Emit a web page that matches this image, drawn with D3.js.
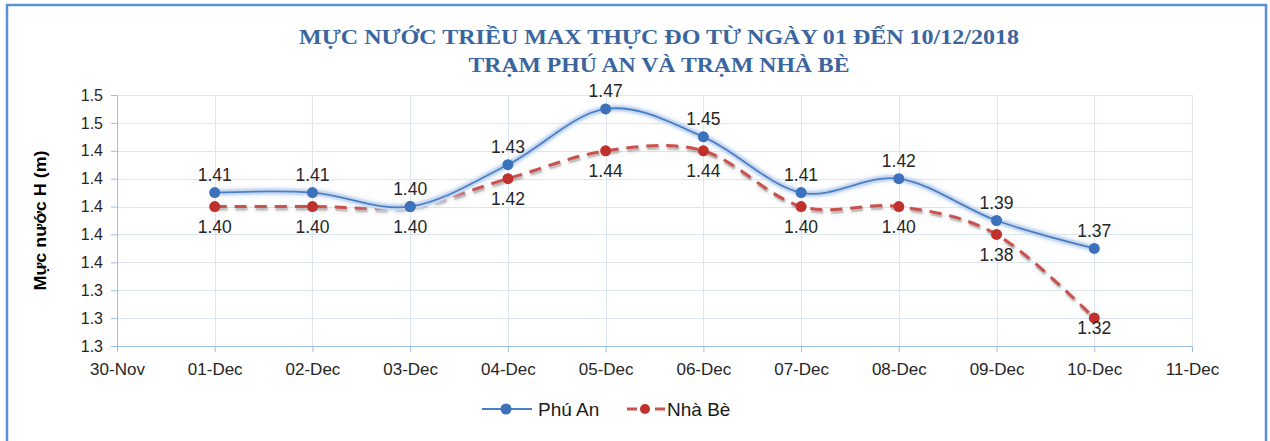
<!DOCTYPE html>
<html>
<head>
<meta charset="utf-8">
<script src="https://cdn.jsdelivr.net/npm/d3@7.9.0/dist/d3.min.js"></script>
<style>
  html, body { margin: 0; padding: 0; background: #fff; }
  svg { display: block; font-family: "Liberation Sans", Arial, sans-serif; }
</style>
</head>
<body>
<svg id="chart" width="1270" height="441"></svg>
<script>
// chart data
const titleLines = ["MỰC NƯỚC TRIỀU MAX THỰC ĐO TỪ NGÀY 01 ĐẾN 10/12/2018", "TRẠM PHÚ AN VÀ TRẠM NHÀ BÈ"];
const yTitle = "Mực nước H (m)";
const dates = ["2018-12-01", "2018-12-02", "2018-12-03", "2018-12-04", "2018-12-05",
               "2018-12-06", "2018-12-07", "2018-12-08", "2018-12-09", "2018-12-10"];
const phuAn = [1.41, 1.41, 1.40, 1.43, 1.47, 1.45, 1.41, 1.42, 1.39, 1.37];
const nhaBe = [1.40, 1.40, 1.40, 1.42, 1.44, 1.44, 1.40, 1.40, 1.38, 1.32];
const seriesNames = ["Phú An", "Nhà Bè"];
const xDomain = ["2018-11-30", "2018-12-11"];
const yTicks = [1.30, 1.32, 1.34, 1.36, 1.38, 1.40, 1.42, 1.44, 1.46, 1.48];

const W = 1270, H = 441;
const margin = { top: 95, right: 78, bottom: 95, left: 117 };
const innerW = W - margin.left - margin.right;
const innerH = H - margin.top - margin.bottom;

const parse = d3.timeParse("%Y-%m-%d");
const svg = d3.select("#chart");

// blurry halo under the lines, like the Excel glow
const defs = svg.append("defs");
const glow = defs.append("filter").attr("id", "glow")
  .attr("x", "-5%").attr("y", "-20%").attr("width", "110%").attr("height", "140%");
glow.append("feGaussianBlur").attr("in", "SourceGraphic").attr("stdDeviation", 2.2).attr("result", "b");
glow.append("feMerge").call(m => {
  m.append("feMergeNode").attr("in", "b");
  m.append("feMergeNode").attr("in", "SourceGraphic");
});

svg.append("rect").attr("width", W).attr("height", H).attr("fill", "#fff");
svg.append("rect")
  .attr("x", 7).attr("y", 5).attr("width", 1259).attr("height", 460)
  .attr("fill", "none").attr("stroke", "#5B8FD6").attr("stroke-width", 2.5);

// title
svg.append("g").selectAll("text")
  .data(titleLines)
  .join("text")
  .attr("x", 659)
  .attr("y", (d, i) => 44 + i * 28)
  .attr("text-anchor", "middle")
  .attr("font-family", "'Liberation Serif', 'Times New Roman', serif")
  .attr("font-weight", "bold")
  .attr("font-size", 22)
  .attr("fill", "#3A659F")
  .attr("textLength", (d, i) => i === 0 ? 720 : 381)
  .attr("lengthAdjust", "spacingAndGlyphs")
  .text(d => d);

const x = d3.scaleTime()
  .domain(xDomain.map(parse))
  .range([0, innerW]);
const y = d3.scaleLinear()
  .domain([yTicks[0], yTicks[yTicks.length - 1]])
  .range([innerH, 0]);

const g = svg.append("g").attr("transform", `translate(${margin.left},${margin.top})`);

// grid
const dayTicks = d3.timeDay.range(parse(xDomain[0]), d3.timeDay.offset(parse(xDomain[1]), 1));
g.append("g").selectAll("line")
  .data(yTicks)
  .join("line")
  .attr("x1", 0).attr("x2", innerW)
  .attr("y1", d => Math.round(y(d)) + 0.5).attr("y2", d => Math.round(y(d)) + 0.5)
  .attr("stroke", "#DCE6F2");
g.append("g").selectAll("line")
  .data(dayTicks)
  .join("line")
  .attr("x1", d => Math.round(x(d)) + 0.5).attr("x2", d => Math.round(x(d)) + 0.5)
  .attr("y1", 0).attr("y2", innerH)
  .attr("stroke", "#DCE6F2");

// axes
const xAxis = g.append("g")
  .attr("transform", `translate(0,${innerH})`)
  .call(d3.axisBottom(x).tickValues(dayTicks).tickFormat(d3.timeFormat("%d-%b")).tickSize(6).tickPadding(11));
const yAxis = g.append("g")
  .call(d3.axisLeft(y).tickValues(yTicks).tickFormat(d3.format(".1f")).tickSize(6).tickPadding(8));
[xAxis, yAxis].forEach(a => {
  a.select(".domain").attr("stroke", "#9DBDE6");
  a.selectAll(".tick line").attr("stroke", "#9DBDE6");
  a.selectAll(".tick text")
    .attr("fill", "#262626")
    .attr("font-family", "'Liberation Sans', Arial, sans-serif");
});
xAxis.selectAll(".tick text").attr("font-size", 17);
yAxis.selectAll(".tick text").attr("font-size", 16);

// y title
svg.append("text")
  .attr("transform", `translate(46,${margin.top + innerH / 2}) rotate(-90)`)
  .attr("text-anchor", "middle")
  .attr("font-weight", "bold")
  .attr("font-size", 17)
  .attr("fill", "#000")
  .attr("textLength", 140)
  .attr("lengthAdjust", "spacingAndGlyphs")
  .text(yTitle);

const rows = dates.map((d, i) => ({ date: parse(d), a: phuAn[i], b: nhaBe[i] }));
const lineA = d3.line().x(d => x(d.date)).y(d => y(d.a)).curve(d3.curveCatmullRom.alpha(0));
const lineB = d3.line().x(d => x(d.date)).y(d => y(d.b)).curve(d3.curveCatmullRom.alpha(0));

const blue = "#4A7EC6", blueDot = "#3C72BC";
const red = "#C9514E", redDot = "#C0302C";

// Nhà Bè
g.append("path").datum(rows)
  .attr("d", lineB)
  .attr("fill", "none")
  .attr("stroke", "rgba(120,120,120,0.35)")
  .attr("stroke-width", 4)
  .attr("stroke-dasharray", "12 8")
  .attr("transform", "translate(1,2)")
  .attr("filter", "url(#glow)");
g.append("path").datum(rows)
  .attr("d", lineB)
  .attr("fill", "none")
  .attr("stroke", red)
  .attr("stroke-width", 3)
  .attr("stroke-dasharray", "12 8");

// Phú An
g.append("path").datum(rows)
  .attr("d", lineA)
  .attr("fill", "none")
  .attr("stroke", "#C9DAF0")
  .attr("stroke-width", 6)
  .attr("filter", "url(#glow)");
g.append("path").datum(rows)
  .attr("d", lineA)
  .attr("fill", "none")
  .attr("stroke", blue)
  .attr("stroke-width", 1.8);

g.append("g").selectAll("circle")
  .data(rows)
  .join("circle")
  .attr("cx", d => x(d.date)).attr("cy", d => y(d.b)).attr("r", 5.5)
  .attr("fill", redDot);
g.append("g").selectAll("circle")
  .data(rows)
  .join("circle")
  .attr("cx", d => x(d.date)).attr("cy", d => y(d.a)).attr("r", 5.5)
  .attr("fill", blueDot);

// data labels
const fmt = d3.format(".2f");
g.append("g").selectAll("text")
  .data(rows)
  .join("text")
  .attr("x", d => x(d.date))
  .attr("y", d => y(d.a) - 18)
  .attr("dy", "0.35em")
  .attr("text-anchor", "middle")
  .attr("font-size", 17.5)
  .attr("fill", "#262626")
  .text(d => fmt(d.a));
g.append("g").selectAll("text")
  .data(rows)
  .join("text")
  .attr("x", d => x(d.date))
  .attr("y", d => Math.min(y(d.b) + 20, innerH - 18))
  .attr("dy", "0.35em")
  .attr("text-anchor", "middle")
  .attr("font-size", 17.5)
  .attr("fill", "#262626")
  .text(d => fmt(d.b));

// legend
const leg = svg.append("g").attr("transform", "translate(0,409)");
leg.append("line").attr("x1", 482).attr("x2", 532).attr("stroke", blue).attr("stroke-width", 1.8);
leg.append("circle").attr("cx", 506).attr("r", 5.5).attr("fill", blueDot);
leg.append("text").attr("x", 538).attr("dy", "0.35em").attr("font-size", 19).attr("fill", "#1a1a1a").text(seriesNames[0]);
leg.append("line").attr("x1", 627).attr("x2", 665).attr("stroke", red).attr("stroke-width", 3).attr("stroke-dasharray", "10 18");
leg.append("circle").attr("cx", 645).attr("r", 5).attr("fill", redDot);
leg.append("text").attr("x", 667).attr("dy", "0.35em").attr("font-size", 19).attr("fill", "#1a1a1a").text(seriesNames[1]);
</script>
</body>
</html>
